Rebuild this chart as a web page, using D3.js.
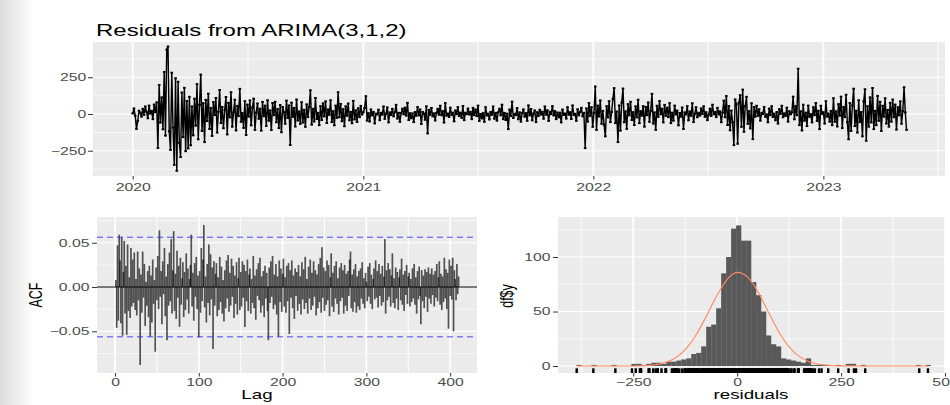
<!DOCTYPE html>
<html><head><meta charset="utf-8">
<script src="https://cdn.jsdelivr.net/npm/d3@7"></script>
<style>body{margin:0;background:#fff}svg{display:block}</style>
</head><body><svg id="c" width="950" height="405"></svg>
<script>
// ---------------- DATA ----------------
const chartTitle = "Residuals from ARIMA(3,1,2)";
const startDate = "2020-01-01";
const stepDays = 2;
const residuals = [
4,38,-12,-101,-47,22,9,-18,35,-6,51,14,-29,57,3,
21,-35,64,12,79,-231,197,-58,113,-104,286,-147,438,459,-118,
-244,281,-92,-346,243,-386,219,-196,-293,146,-157,178,-253,88,-234,
117,-213,51,-145,104,-79,203,-172,62,268,-115,73,-191,96,-48,
138,-102,41,-149,81,-7,109,-126,15,163,-61,48,-97,29,116,
-139,76,-23,148,-86,11,97,-112,55,-14,171,-53,6,-94,87,
-143,64,-18,92,-77,44,104,-108,9,71,-32,36,-113,82,-15,
57,-81,93,-46,24,-109,75,-8,83,-56,33,-96,61,-124,47,
13,-66,91,-27,58,-211,77,-19,41,-85,98,-44,17,-67,80,
-58,28,-87,65,-21,47,161,-72,35,-51,109,-34,8,-76,53,
-41,72,-16,86,-61,31,-5,93,-55,19,-77,57,-26,148,-22,
68,-49,33,-83,52,-12,71,-43,14,-63,89,-37,25,-54,39,
-21,55,-4,12,41,121,-45,6,-51,31,-9,14,-64,2,-3,
29,-42,8,-4,51,-33,2,45,-57,11,-7,35,-16,13,62,
-31,8,-53,6,36,-2,43,-11,76,-41,5,-29,4,-55,13,
-12,47,-9,31,-68,14,3,-39,52,-132,28,-5,41,-16,4,
-44,7,35,-5,56,-8,19,-58,74,-11,3,-20,43,-6,9,
-50,24,-1,47,-14,9,-26,54,-42,8,-1,37,-3,15,-35,
42,-8,31,-14,57,-47,0,-30,6,-53,46,-10,2,-37,14,
-5,51,-32,7,-45,12,36,-9,63,-35,7,-41,2,-103,30,
-14,84,-27,1,-8,40,-36,11,-52,5,31,-18,6,-46,58,
-9,34,-43,3,24,-55,12,-13,29,-4,15,-32,51,-5,25,
-47,15,-1,53,-10,20,-35,10,-23,9,-57,30,-6,3,-31,
46,-5,12,-34,58,-7,1,-46,32,-9,14,42,-16,8,-232,
38,-52,74,-13,46,-87,8,187,-108,57,-17,92,-66,21,-73,
-152,53,-23,87,-55,13,103,176,-62,17,-191,58,-113,77,173,
-56,18,-101,67,-9,83,-41,12,-75,52,-23,97,-62,19,-11,
53,-86,48,-8,78,-53,22,137,-65,11,-108,56,-19,88,-2,
36,-57,62,-12,43,-21,74,-62,9,-45,57,-3,23,-77,7,
-18,44,-102,11,-3,53,-43,17,-12,73,-55,2,46,-22,8,
-11,38,-1,52,-19,12,-42,-4,36,-13,63,-2,14,-21,42,
-3,18,-56,9,91,-22,122,-75,54,-111,23,-57,-212,99,66,
-202,77,128,-87,166,-121,53,117,-66,19,-98,73,-171,47,-18,
56,-12,32,-45,8,-1,48,-19,-3,-56,37,-8,53,-21,2,
-43,13,-65,33,1,56,-22,4,-13,43,-52,19,-2,11,118,
-36,54,-8,308,-76,18,-112,63,-45,9,-82,57,-19,-2,-57,
46,-8,74,-47,22,-103,56,1,12,-65,87,-18,3,-52,21,
-76,107,-53,18,-85,67,-11,118,-96,47,-21,131,-56,-172,74,
-115,58,172,-82,22,-126,93,-55,13,-152,86,168,-182,53,-86,
113,-57,177,-103,21,-76,123,-46,83,-115,56,-18,107,-65,28,
-86,76,-52,98,-22,64,-106,46,-9,86,-66,19,182,11,-108
];
const yearTicks = ["2020-01-01","2021-01-01","2022-01-01","2023-01-01"];
const yearMinor = ["2019-07-02","2020-07-02","2021-07-02","2022-07-02","2023-07-02"];
const resTicks = [-250, 0, 250];
const resMinor = [-375, -125, 125, 375];

const acfValues = [
.008,-.046,.047,-.038,.059,.030,-.041,.056,-.055,.017,
.052,-.030,.024,-.054,.048,-.027,.011,-.035,.044,-.022,
.031,-.018,.039,-.026,.009,-.032,.040,-.015,.021,-.088,
.014,-.029,.040,-.012,.026,-.044,.006,-.021,.018,-.034,
.024,-.056,.013,-.040,.031,-.019,.008,-.073,.022,-.015,
.035,-.025,.064,-.011,.018,-.042,.029,-.008,.044,-.033,
.012,-.060,.026,-.021,.039,-.016,.054,-.030,.019,.063,
-.027,.015,-.036,.041,-.012,.024,-.045,.033,-.020,.010,
.028,-.034,.017,-.026,.038,-.014,.021,-.030,.009,.025,
.059,-.022,.016,-.038,.027,-.011,.034,-.025,.013,-.057,
.018,-.029,.044,-.016,.031,.070,-.023,.012,-.040,.026,
-.018,.048,-.032,.037,-.014,.022,-.070,.029,-.021,.015,
.027,-.033,.011,-.026,.034,-.017,.023,-.030,.008,-.039,
.019,-.024,.030,-.013,.036,-.028,.016,-.021,.032,-.011,
.024,-.035,.013,-.019,.028,-.031,.010,.033,-.026,.017,
-.022,.029,-.012,.025,-.045,.018,-.016,.031,-.027,.014,
.021,-.030,.009,-.018,.035,-.024,.013,-.037,.020,-.010,
.027,-.015,.033,-.029,.012,-.021,.018,-.034,.024,-.013,
.016,-.027,-.060,.022,-.018,.029,-.011,.035,-.025,.014,
-.020,.026,-.031,.012,-.056,.030,-.017,.021,-.028,.015,
.032,-.022,.011,-.029,.024,-.016,.027,-.053,.019,-.012,
.030,-.024,.013,-.036,.021,-.010,.017,-.027,.025,-.019,
.012,-.031,.028,-.014,.020,-.025,.034,-.018,.009,-.030,
.023,-.013,.031,-.026,.016,-.021,.029,-.011,.019,-.032,
.014,-.024,.026,-.017,.033,-.029,.045,-.012,.022,-.027,
.018,-.020,.030,-.015,.025,-.033,.011,.038,-.022,.016,
-.028,.024,-.013,.029,-.019,.010,-.031,.022,-.016,.027,
-.012,.019,-.030,.025,-.021,.015,-.027,.018,-.010,.031,
.040,-.024,.014,-.028,.020,-.017,.026,-.029,.012,-.022,
.018,-.026,.021,-.013,.028,-.019,.010,-.024,.016,.006,
-.016,.023,-.011,.027,-.019,.014,-.025,.009,.021,-.014,
.030,-.012,.018,-.023,.026,-.010,.015,-.021,.024,-.017,
.012,.054,-.030,.019,-.015,.027,-.011,.020,-.022,.013,
.038,-.018,.010,-.024,.022,-.013,.017,-.026,.011,.020,
-.015,.032,-.020,.014,-.027,.018,-.009,.025,-.019,.012,
.016,-.022,.009,-.017,.021,-.013,.026,-.020,.011,-.030,
.018,-.014,.023,-.010,-.042,.019,-.016,.013,-.024,.020,
-.011,.017,-.028,.022,-.013,.015,-.019,.021,-.009,.014,
-.022,.018,-.012,.026,-.016,.011,.029,-.020,.015,-.026,
.012,-.017,.033,-.013,.020,-.025,.016,-.047,.031,-.010,
.024,-.014,.033,-.050,.019,.009,-.015,.026,-.008,.012
];
const acfLimit = 0.0562;
const lagTicks = [0, 100, 200, 300, 400];
const lagMinor = [50, 150, 250, 350];
const acfTicks = [-0.05, 0, 0.05];
const acfMinor = [-0.075, -0.025, 0.025, 0.075];

const histStart = -386.5;
const histWidth = 12;
const histCounts = [
1,0,0,1,0,0,0,1,0,0,
0,2,2,1,2,3,3,2,4,4,
5,6,7,11,12,18,36,38,53,85,
100,126,129,115,115,77,65,50,28,20,
18,7,6,5,4,3,7,1,1,1,
1,0,1,0,2,2,0,1,0,0,
0,0,0,0,0,0,0,0,1,0,1
];
const normalX = [-385,-300,-250,-225,-200,-175,-150,-125,-100,-75,-50,-25,0,25,50,75,100,125,150,175,200,225,250,300,400,460];
const normalY = [0,0,0.09,0.34,1.07,2.9,7.1,15.0,27.8,45.0,63.7,79.1,85.9,81.7,68.0,49.5,31.5,17.6,8.6,3.7,1.4,0.45,0.13,0,0,0];
const histXTicks = [-250, 0, 250, 500];
const histXMinor = [-375, -125, 125, 375];
const histYTicks = [0, 50, 100];
const histYMinor = [25, 75, 125];

// ---------------- STYLE ----------------
const FONT = '"Liberation Sans", Arial, Helvetica, sans-serif';
const SX = 1.5;            // horizontal stretch of the original picture
const PANEL = "#EBEBEB";
const TICKC = "#4D4D4D";

const svg = d3.select("#c");
const defs = svg.append("defs");
const lg = defs.append("linearGradient").attr("id","lg").attr("x1",0).attr("x2",1).attr("y1",0).attr("y2",0);
lg.append("stop").attr("offset",0).attr("stop-color","#dcdcdc");
lg.append("stop").attr("offset",1).attr("stop-color","#ffffff");
svg.append("rect").attr("width",950).attr("height",405).attr("fill","#fff");
svg.append("rect").attr("width",34).attr("height",405).attr("fill","url(#lg)");

function label(x, y, s, o = {}) {
  const t = svg.append("text")
    .attr("transform", `translate(${x},${y}) scale(${SX},1)` + (o.rot ? " rotate(-90)" : ""))
    .attr("font-family", FONT).attr("font-size", o.size || 11)
    .attr("fill", o.fill || "#000").attr("text-anchor", o.anchor || "middle")
    .text(s);
  if (o.dy) t.attr("dy", o.dy);
  return t;
}
function styleAxis(g) {
  g.select(".domain").remove();
  g.selectAll(".tick line").attr("stroke", "#333").attr("stroke-width", 1);
  g.selectAll(".tick text").each(function () {
    const t = d3.select(this);
    const x = +t.attr("x") || 0, y = +t.attr("y") || 0;
    t.attr("x", 0).attr("y", 0)
     .attr("transform", `translate(${x},${y}) scale(${SX},1)`)
     .attr("fill", TICKC).attr("font-family", FONT).attr("font-size", 10.5);
  });
}
function grid(g, xs, ys, xScale, yScale, P, w) {
  g.selectAll(null).data(ys).join("line")
    .attr("x1", P.l).attr("x2", P.r).attr("y1", d => yScale(d)).attr("y2", d => yScale(d))
    .attr("stroke", "#fff").attr("stroke-width", w.h);
  g.selectAll(null).data(xs).join("line")
    .attr("y1", P.t).attr("y2", P.b).attr("x1", d => xScale(d)).attr("x2", d => xScale(d))
    .attr("stroke", "#fff").attr("stroke-width", w.v);
}
function panel(P) {
  svg.append("rect").attr("x", P.l).attr("y", P.t).attr("width", P.r - P.l).attr("height", P.b - P.t).attr("fill", PANEL);
  return svg.append("g");
}
const parse = d3.utcParse("%Y-%m-%d");

// ---------------- TOP: residual series ----------------
{
  const P = {l: 93, r: 945, t: 42, b: 176};
  const x = d3.scaleUtc().domain([parse("2019-10-30"), parse("2023-07-13")]).range([P.l, P.r]);
  const y = d3.scaleLinear().domain([-422, 490]).range([P.b, P.t]);
  const g = panel(P);
  grid(g, yearMinor.map(parse).filter(d => x(d) > P.l && x(d) < P.r), resMinor, x, y, P, {h: 0.6, v: 0.9});
  grid(g, yearTicks.map(parse), resTicks, x, y, P, {h: 1.1, v: 1.7});
  const s0 = parse(startDate);
  const pts = residuals.map((v, i) => ({d: d3.utcDay.offset(s0, i * stepDays), v}));
  g.append("path").datum(pts)
    .attr("d", d3.line().x(p => x(p.d)).y(p => y(p.v)))
    .attr("fill", "none").attr("stroke", "#000").attr("stroke-width", 1.45).attr("stroke-linejoin", "round");
  g.selectAll(null).data(pts).join("rect")
    .attr("x", p => x(p.d) - 1.3).attr("y", p => y(p.v) - 1).attr("width", 2.6).attr("height", 2).attr("fill", "#000");
  const ax = svg.append("g").attr("transform", `translate(0,${P.b})`)
    .call(d3.axisBottom(x).tickValues(yearTicks.map(parse)).tickFormat(d3.utcFormat("%Y")).tickSize(3.5).tickPadding(4));
  styleAxis(ax);
  const ay = svg.append("g").attr("transform", `translate(${P.l},0)`)
    .call(d3.axisLeft(y).tickValues(resTicks).tickFormat(d3.format("d")).tickSize(5).tickPadding(1.8));
  styleAxis(ay);
  label(96, 36, chartTitle, {size: 16, anchor: "start"});
}

// ---------------- BOTTOM LEFT: ACF ----------------
{
  const P = {l: 97, r: 477, t: 217, b: 373};
  const x = d3.scaleLinear().domain([-21.5, 432]).range([P.l, P.r]);
  const y = d3.scaleLinear().domain([-0.097, 0.079]).range([P.b, P.t]);
  const g = panel(P);
  grid(g, lagMinor, acfMinor, x, y, P, {h: 0.6, v: 0.9});
  grid(g, lagTicks, acfTicks, x, y, P, {h: 1.1, v: 1.7});
  g.selectAll(null).data(acfValues).join("line")
    .attr("x1", (d, i) => x(i + 1)).attr("x2", (d, i) => x(i + 1))
    .attr("y1", y(0)).attr("y2", d => y(d))
    .attr("stroke", "#000").attr("stroke-opacity", 0.66).attr("stroke-width", 1.7);
  g.append("line").attr("x1", P.l).attr("x2", P.r).attr("y1", y(0)).attr("y2", y(0))
    .attr("stroke", "#000").attr("stroke-width", 1);
  g.selectAll(null).data([acfLimit, -acfLimit]).join("line")
    .attr("x1", P.l).attr("x2", P.r).attr("y1", d => y(d)).attr("y2", d => y(d))
    .attr("stroke", "#2b2bff").attr("stroke-opacity", 0.85).attr("stroke-width", 1).attr("stroke-dasharray", "6,4");
  const ax = svg.append("g").attr("transform", `translate(0,${P.b})`)
    .call(d3.axisBottom(x).tickValues(lagTicks).tickFormat(d3.format("d")).tickSize(3.5).tickPadding(2.5));
  styleAxis(ax);
  const ay = svg.append("g").attr("transform", `translate(${P.l},0)`)
    .call(d3.axisLeft(y).tickValues(acfTicks).tickFormat(d3.format(".2f")).tickSize(5).tickPadding(2.5));
  styleAxis(ay);
  label(257, 399, "Lag", {size: 12.5});
  label(35, 295, "ACF", {size: 12.5, rot: true, dy: "0.36em"});
}

// ---------------- BOTTOM RIGHT: histogram ----------------
{
  const P = {l: 558, r: 945, t: 217, b: 373};
  const x = d3.scaleLinear().domain([-431, 500]).range([P.l, P.r]);
  const y = d3.scaleLinear().domain([-6.4, 136.7]).range([P.b, P.t]);
  const g = panel(P);
  grid(g, histXMinor, histYMinor, x, y, P, {h: 0.6, v: 0.9});
  grid(g, histXTicks, histYTicks, x, y, P, {h: 1.1, v: 1.7});
  g.selectAll(null).data(histCounts).join("rect")
    .attr("x", (d, i) => x(histStart + i * histWidth))
    .attr("width", (d, i) => x(histStart + (i + 1) * histWidth) - x(histStart + i * histWidth) + 0.2)
    .attr("y", d => y(d)).attr("height", d => y(0) - y(d))
    .attr("fill", "#595959");
  g.append("path").datum(normalX.map((v, i) => [v, normalY[i]]))
    .attr("d", d3.line().x(p => x(p[0])).y(p => y(p[1])).curve(d3.curveMonotoneX))
    .attr("fill", "none").attr("stroke", "#ff8a62").attr("stroke-width", 1.1);
  g.selectAll(null).data(residuals).join("line")
    .attr("x1", d => x(d)).attr("x2", d => x(d))
    .attr("y1", P.b - 4.7).attr("y2", P.b)
    .attr("stroke", "#000").attr("stroke-width", 2.4);
  const ax = svg.append("g").attr("transform", `translate(0,${P.b})`)
    .call(d3.axisBottom(x).tickValues(histXTicks).tickFormat(d3.format("d")).tickSize(3.5).tickPadding(2.5));
  styleAxis(ax);
  const ay = svg.append("g").attr("transform", `translate(${P.l},0)`)
    .call(d3.axisLeft(y).tickValues(histYTicks).tickFormat(d3.format("d")).tickSize(5).tickPadding(2.5));
  styleAxis(ay);
  label(751, 399, "residuals", {size: 12.5});
  label(506, 296, "df$y", {size: 12.5, rot: true, dy: "0.36em"});
}
</script>
</body></html>
